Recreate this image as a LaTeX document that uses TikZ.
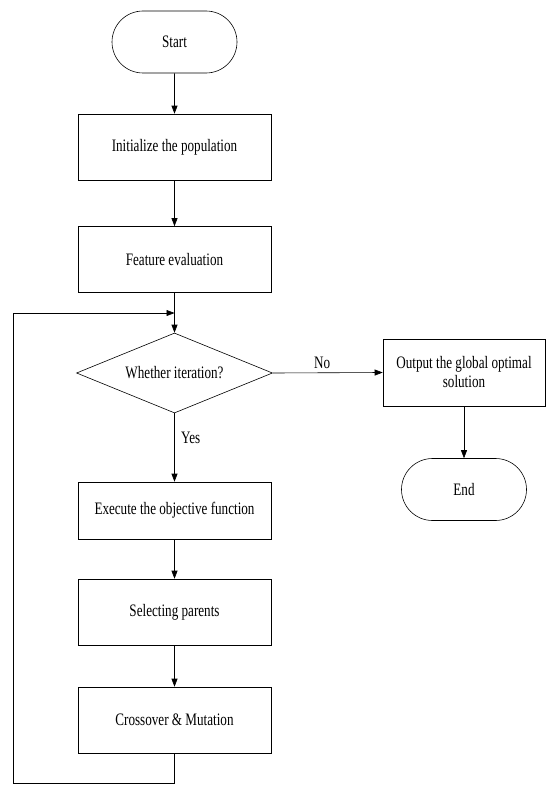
\documentclass[tikz,border=0pt]{standalone}
\usepackage{fontspec}
\setmainfont[FakeStretch=0.75]{Liberation Serif}
\usepackage{tikz}
\usetikzlibrary{arrows.meta, positioning, shapes.geometric, shapes.misc}

\begin{document}
\begin{tikzpicture}[
    x=1pt, y=-1pt,
    font=\fontsize{17.5}{19}\selectfont,
    termbox/.style={rounded rectangle, draw, line width=0.6pt, minimum width=125pt,
                    minimum height=62pt, inner sep=0pt, align=center},
    procbox/.style={rectangle, draw, line width=0.6pt, minimum width=193pt,
                    minimum height=66pt, inner sep=0pt, align=center},
    decbox/.style={diamond, draw, line width=0.6pt, aspect=2.45, minimum width=196pt,
                   minimum height=80pt, inner sep=0pt, align=center},
    arr/.style={-{Triangle[length=8pt, width=6pt]}, line width=0.6pt},
]
    \useasboundingbox (0,0) rectangle (550,792);

    % ── Coordinates: 2 columns ──
    \def\colA{174.5}
    \def\colB{464}

    % ── Main column ──
    \node[termbox] (start) at (\colA, 42)     {Start};
    \node[procbox] (init)  at (\colA, 147)    {Initialize the population};
    \node[procbox] (feat)  at (\colA, 259.5)  {Feature evaluation};
    \node[decbox]  (iter)  at (\colA, 373)    {Whether iteration?};
    \node[procbox, minimum height=57pt] (exec) at (\colA, 510.5) {Execute the objective function};
    \node[procbox] (sel)   at (\colA, 612)    {Selecting parents};
    \node[procbox] (cross) at (\colA, 720)    {Crossover \& Mutation};

    % ── Right column ──
    \node[procbox, minimum width=162pt, minimum height=67pt] (out) at (\colB, 372.5)
        {Output the global optimal\\solution};
    \node[termbox] (end)   at (\colB, 489.5)  {End};

    % Arrows: main flow
    \draw[arr] (start) -- (init);
    \draw[arr] (init) -- (feat);
    \draw[arr] (feat) -- (iter);
    \draw[arr] (iter) -- node[right, pos=0.36, xshift=3pt] {Yes} (exec);
    \draw[arr] (exec) -- (sel);
    \draw[arr] (sel) -- (cross);

    % Arrows: exit branch
    \draw[arr] (iter.east) -- node[above, pos=0.45] {No} (out.west);
    \draw[arr] (out) -- (end);

    % Loop back
    \coordinate (loopbot) at (13, 783);
    \coordinate (join) at (\colA, 313);
    \draw[arr] (cross.south) |- (loopbot) |- (join);

\end{tikzpicture}
\end{document}
